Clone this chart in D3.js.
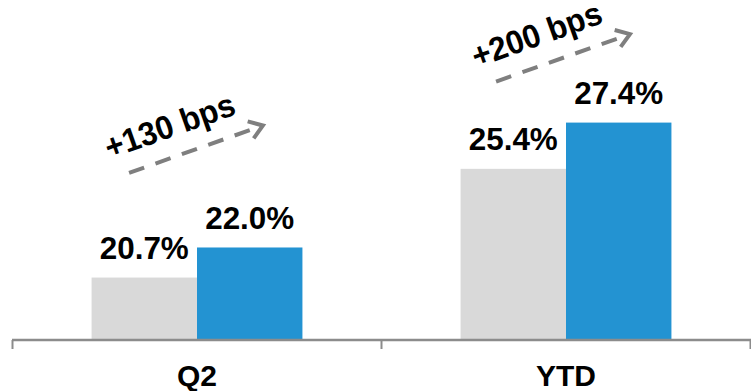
<!DOCTYPE html>
<html>
<head>
<meta charset="utf-8">
<script src="https://cdn.jsdelivr.net/npm/d3@7"></script>
<style>
  html, body { margin: 0; padding: 0; background: #fff; }
  svg { display: block; font-family: "Liberation Sans", Arial, sans-serif; }
</style>
</head>
<body>
<div id="chart"></div>
<script>
// data
const categories = ["Q2", "YTD"];
const series = ["prior", "current"];
const priorValues = [20.7, 25.4];
const currentValues = [22.0, 27.4];
const changeLabels = ["+130 bps", "+200 bps"];

const width = 751;
const height = 391;
const colors = { prior: "#D9D9D9", current: "#2393D2" };

const svg = d3
  .select("#chart")
  .append("svg")
  .attr("width", width)
  .attr("height", height);

// scales
const x0 = d3.scaleBand().domain(categories).range([12.5, 750.5]);
const x1 = d3
  .scaleBand()
  .domain(series)
  .range([0, x0.bandwidth()])
  .paddingOuter(0.75);
const y = d3.scaleLinear().domain([18, 32]).range([340, 16.2]);

const rows = categories.map((c, i) => ({
  category: c,
  prior: priorValues[i],
  current: currentValues[i],
  change: changeLabels[i]
}));

// bars
const group = svg
  .selectAll(".cat")
  .data(rows)
  .enter()
  .append("g")
  .attr("class", "cat")
  .attr("transform", (d) => `translate(${x0(d.category)},0)`);

group
  .selectAll("rect")
  .data((d) => series.map((s) => ({ key: s, value: d[s] })))
  .enter()
  .append("rect")
  .attr("x", (d) => x1(d.key))
  .attr("y", (d) => y(d.value))
  .attr("width", x1.bandwidth())
  .attr("height", (d) => y.range()[0] - y(d.value))
  .attr("fill", (d) => colors[d.key]);

// value labels
group
  .selectAll(".val")
  .data((d) => series.map((s) => ({ key: s, value: d[s] })))
  .enter()
  .append("text")
  .attr("class", "val")
  .attr("x", (d) => x1(d.key) + x1.bandwidth() / 2)
  .attr("y", (d) => y(d.value) - 18.5)
  .attr("text-anchor", "middle")
  .attr("textLength", 89)
  .attr("lengthAdjust", "spacingAndGlyphs")
  .style("font-size", "31px")
  .style("font-weight", "bold")
  .attr("fill", "#000")
  .text((d) => d.value.toFixed(1) + "%");

// axis line and ticks
const axisY = y.range()[0];
svg
  .append("line")
  .attr("x1", x0.range()[0] - 0.5)
  .attr("x2", width)
  .attr("y1", axisY)
  .attr("y2", axisY)
  .attr("stroke", "#8C8C8C")
  .attr("stroke-width", 2.5);

const tickXs = categories.map((c) => x0(c)).concat([x0.range()[1]]);
svg
  .selectAll(".tick")
  .data(tickXs)
  .enter()
  .append("line")
  .attr("class", "tick")
  .attr("x1", (d) => d)
  .attr("x2", (d) => d)
  .attr("y1", axisY)
  .attr("y2", axisY + 9)
  .attr("stroke", "#8C8C8C")
  .attr("stroke-width", 2);

// category labels
svg
  .selectAll(".cat-label")
  .data(categories)
  .enter()
  .append("text")
  .attr("class", "cat-label")
  .attr("x", (d) => x0(d) + x0.bandwidth() / 2)
  .attr("y", 386)
  .attr("text-anchor", "middle")
  .style("font-size", "30px")
  .style("font-weight", "bold")
  .text((d) => d);

// change arrows with labels
const arrowLevel = [26.25, 30.2]; // where the arrows sit, in chart units
const arrowShift = [-1, -3];
const angle = -19.5;
const halfLen = 71;

const ann = svg
  .selectAll(".ann")
  .data(rows)
  .enter()
  .append("g")
  .attr("class", "ann")
  .attr(
    "transform",
    (d, i) =>
      `translate(${x0(d.category) + x0.bandwidth() / 2 + arrowShift[i]},${y(
        arrowLevel[i]
      )}) rotate(${angle})`
  );

ann
  .append("line")
  .attr("x1", -halfLen)
  .attr("x2", halfLen - 2)
  .attr("y1", 0)
  .attr("y2", 0)
  .attr("stroke", "#7F7F7F")
  .attr("stroke-width", 4)
  .attr("stroke-dasharray", "16,12");

ann
  .append("path")
  .attr("d", `M${halfLen - 13},-9 L${halfLen},0 L${halfLen - 13},9`)
  .attr("fill", "none")
  .attr("stroke", "#7F7F7F")
  .attr("stroke-width", 4);

ann
  .append("text")
  .attr("x", -17)
  .attr("y", -31)
  .attr("dy", "0.35em")
  .attr("text-anchor", "middle")
  .attr("textLength", 136)
  .attr("lengthAdjust", "spacingAndGlyphs")
  .style("font-size", "33px")
  .style("font-weight", "bold")
  .text((d) => d.change);
</script>
</body>
</html>
